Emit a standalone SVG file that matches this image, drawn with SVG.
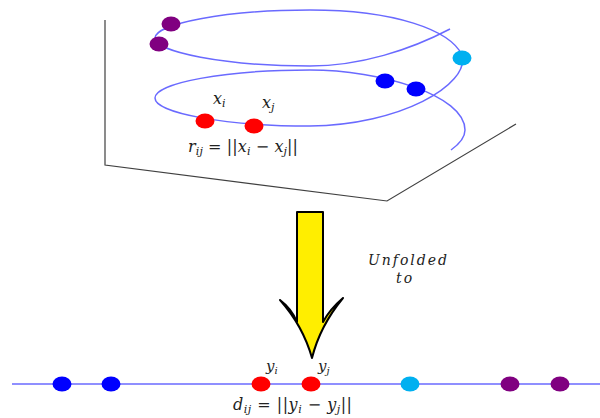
<svg xmlns="http://www.w3.org/2000/svg" width="600" height="418" viewBox="0 0 600 418">
<style>
.helix{fill:none;stroke:#6a6aff;stroke-width:1.5}
.plane{fill:none;stroke:#404040;stroke-width:1.2}
.m{font-family:'DejaVu Serif','Liberation Serif',serif;font-style:italic;fill:#222}
.r{font-style:normal}
.purple{fill:#800080}
.cyan{fill:#00b0f0}
.blue{fill:#0000ff}
.red{fill:#ff0000}
</style>
<rect width="600" height="418" fill="#fff"/>
<g id="plane">
<polyline class="plane" points="105,20 105,165 387,201 516,124"/>
</g>
<g id="connectors">
<path class="helix" d="M450,29 C410,50 360,66 310,66 C225,66 155,52 155,38 C155,24 225,10 310,10 C395,10 450,30 462,55 C470,85 400,125 310,126 C225,126 155,113 155,98 C155,83 225,70 310,70 C380,70 465,95 465,130 C465,138 458,145 451,150"/>
<line class="helix" x1="12" y1="384" x2="600" y2="384"/>
</g>
<g id="arrow">
<path d="M297,212 L323,212 L323,322 Q330,309 343,298 Q320,326 312,358 Q303,326 280,300 Q292,309 297,322 Z" fill="#ffee00" stroke="#000" stroke-width="2" stroke-linejoin="round"/>
</g>
<g id="helix-points">
<ellipse class="purple" cx="171" cy="24" rx="9.5" ry="7.5"/>
<ellipse class="purple" cx="159" cy="44" rx="9.5" ry="7.5"/>
<ellipse class="cyan" cx="462" cy="58" rx="9.5" ry="7.5"/>
<ellipse class="blue" cx="385" cy="81" rx="9.5" ry="7.5"/>
<ellipse class="blue" cx="416" cy="89" rx="9.5" ry="7.5"/>
<ellipse class="red" cx="205" cy="121" rx="9.5" ry="7.5"/>
<ellipse class="red" cx="254" cy="126" rx="9.5" ry="7.5"/>
</g>
<g id="line-points">
<ellipse class="blue" cx="62" cy="384" rx="9.5" ry="7.5"/>
<ellipse class="blue" cx="111" cy="384" rx="9.5" ry="7.5"/>
<ellipse class="red" cx="261" cy="384" rx="9.5" ry="7.5"/>
<ellipse class="red" cx="311" cy="384" rx="9.5" ry="7.5"/>
<ellipse class="cyan" cx="410" cy="384" rx="9.5" ry="7.5"/>
<ellipse class="purple" cx="510" cy="384" rx="9.5" ry="7.5"/>
<ellipse class="purple" cx="560" cy="384" rx="9.5" ry="7.5"/>
</g>
<g id="labels">
<text class="m" x="213" y="104" font-size="16">x<tspan font-size="11" dy="3">i</tspan></text>
<text class="m" x="262" y="108" font-size="16">x<tspan font-size="11" dy="3">j</tspan></text>
<text class="m" x="188" y="152" font-size="16" textLength="110" lengthAdjust="spacing">r<tspan font-size="11" dy="3">ij</tspan><tspan class="r" dy="-3"> = ||</tspan>x<tspan font-size="11" dy="3">i</tspan><tspan class="r" dy="-3"> − </tspan>x<tspan font-size="11" dy="3">j</tspan><tspan class="r" dy="-3">||</tspan></text>
<text class="m" x="368" y="265" font-size="14" textLength="79" lengthAdjust="spacing">Unfolded</text>
<text class="m" x="396" y="283" font-size="14" letter-spacing="2">to</text>
<text class="m" x="266" y="371" font-size="15">y<tspan font-size="10" dy="3">i</tspan></text>
<text class="m" x="318" y="371" font-size="15">y<tspan font-size="10" dy="3">j</tspan></text>
<text class="m" x="233" y="410" font-size="16" textLength="119" lengthAdjust="spacing">d<tspan font-size="11" dy="3">ij</tspan><tspan class="r" dy="-3"> = ||</tspan>y<tspan font-size="11" dy="3">i</tspan><tspan class="r" dy="-3"> − </tspan>y<tspan font-size="11" dy="3">j</tspan><tspan class="r" dy="-3">||</tspan></text>
</g>
</svg>
